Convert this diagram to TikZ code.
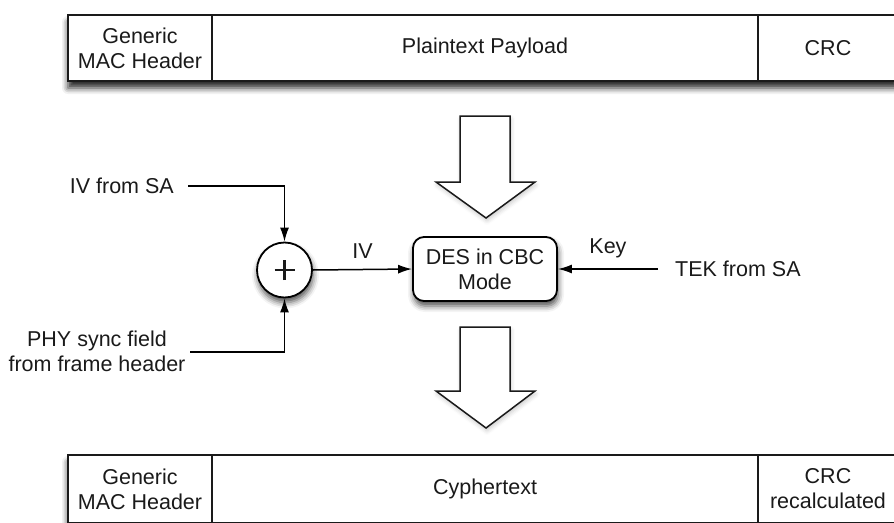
\documentclass[tikz,border=0pt]{standalone}
\usepackage{fontspec}
\setmainfont{Liberation Sans}
\usetikzlibrary{arrows.meta,shadows.blur}
\definecolor{ink}{HTML}{1A1A1A}
\tikzset{
  lbl/.style={font=\fontsize{21.5}{25}\selectfont, text=ink, align=center, inner sep=0pt},
  cell/.style={draw=ink, line width=1.8pt, fill=white, inner sep=0pt, lbl},
  frameshadow/.style={blur shadow={shadow xshift=0pt, shadow yshift=-7pt, shadow blur radius=6pt, shadow opacity=85}},
  softshadow/.style={blur shadow={shadow xshift=1pt, shadow yshift=-5pt, shadow blur radius=6pt, shadow opacity=70}},
  lightshadow/.style={blur shadow={shadow xshift=1pt, shadow yshift=-3pt, shadow blur radius=4pt, shadow opacity=20}},
  conn/.style={draw=black, line width=1.5pt, -{Latex[length=14pt,width=9pt]}},
  bigarrow/.style={draw=ink, line width=1.5pt, fill=white, line join=miter, lightshadow},
}
\begin{document}
\begin{tikzpicture}[x=1pt,y=-1pt]
\useasboundingbox (0,0) rectangle (894,522);
\clip (0,0) rectangle (894,522);

% top frame: plaintext MPDU
\path[fill=white, frameshadow] (68,15) rectangle (898,81);
\node[cell, minimum width=144pt, minimum height=66pt] (th) at (140,48) {Generic\\MAC Header};
\node[cell, minimum width=546pt, minimum height=66pt] (tp) at (485,48) {Plaintext Payload};
\node[cell, minimum width=140pt, minimum height=66pt] (tc) at (828,48) {CRC};

% bottom frame: encrypted MPDU
\path[fill=white, frameshadow] (68,455) rectangle (898,523);
\node[cell, minimum width=144pt, minimum height=68pt] (bh) at (140,489) {Generic\\MAC Header};
\node[cell, minimum width=546pt, minimum height=68pt] (bp) at (485,489) {Cyphertext};
\node[cell, minimum width=140pt, minimum height=68pt] (bc) at (828,489) {CRC\\recalculated};

% hollow block arrows
\path[bigarrow] (460,116) -- (510,116) -- (510,182) -- (535,182) -- (486,218)
  -- (436,182) -- (460,182) -- cycle;
\path[bigarrow] (460,327) -- (510,327) -- (510,391) -- (535,391) -- (486,428)
  -- (436,391) -- (460,391) -- cycle;

% cipher block and IV combiner
\node[draw=black, line width=1.8pt, fill=white, rounded corners=11pt,
      minimum width=144pt, minimum height=64pt, lbl, softshadow] (des) at (485,269)
      {DES in CBC\\Mode};
\node[draw=black, line width=1.8pt, fill=white, circle, minimum size=55pt,
      inner sep=0pt, softshadow] (xor) at (284.5,270) {};
\draw[line width=2.6pt, ink] ([xshift=-10pt]xor.center) -- ([xshift=10pt]xor.center)
  ([yshift=-10pt]xor.center) -- ([yshift=10pt]xor.center);

% inputs
\node[lbl, anchor=east] (ivsa) at (174,186) {IV from SA};
\node[lbl] (phy) at (97,351) {PHY sync field\\from frame header};
\node[lbl, anchor=west] (tek) at (675,269) {TEK from SA};
\coordinate (ivstart) at (188,186);
\coordinate (phystart) at (190,352);
\coordinate (tekstart) at (658,269);

% connectors
\draw[conn] (ivstart) -| (xor.north);
\draw[conn] (phystart) -| (xor.south);
\draw[conn] (xor.east) -- node[lbl, above=10pt] {IV} (des.west);
\draw[conn] (tekstart) -- node[lbl, above=10pt] {Key} (des.east);
\end{tikzpicture}
\end{document}
